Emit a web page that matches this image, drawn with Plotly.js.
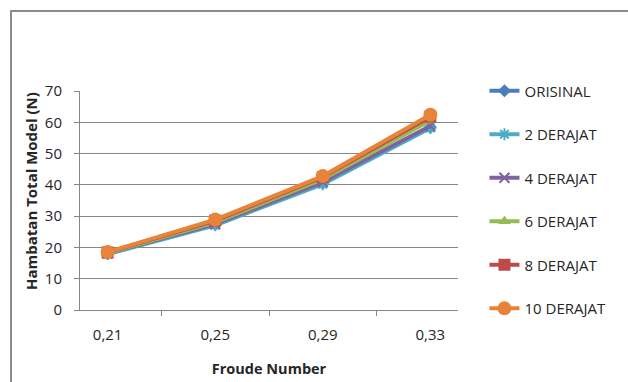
<!DOCTYPE html>
<html>
<head>
<meta charset="utf-8">
<script src="https://cdn.plot.ly/plotly-3.0.1.min.js"></script>
<style>
  html, body { margin: 0; padding: 0; background: #ffffff; }
  #wrap { position: relative; width: 628px; height: 382px; overflow: hidden; }
  #frame { position: absolute; left: 10px; top: 10px; width: 640px; height: 400px;
           border-top: 2px solid #8c8c8c; border-left: 2px solid #8c8c8c; box-sizing: border-box; }
  #chart { position: absolute; left: 0; top: 0; width: 628px; height: 382px; }
</style>
</head>
<body>
<div id="wrap">
  <div id="frame"></div>
  <div id="chart"></div>
</div>
<script>
// Froude numbers on the category axis
const froude = ['0,21', '0,25', '0,29', '0,33'];

// Total model resistance (N) for each trim angle
const orisinal  = [18.0, 27.3, 40.5, 58.4];
const derajat2  = [17.9, 27.1, 40.2, 58.2];
const derajat4  = [18.1, 27.5, 40.9, 58.8];
const derajat6  = [18.2, 28.0, 41.8, 60.6];
const derajat8  = [18.4, 28.6, 42.5, 61.8];
const derajat10 = [18.5, 28.9, 42.8, 62.4];

const seriesNames = ['ORISINAL', '2 DERAJAT', '4 DERAJAT', '6 DERAJAT', '8 DERAJAT', '10 DERAJAT'];
const yTicks = [0, 10, 20, 30, 40, 50, 60, 70];

const values = [orisinal, derajat2, derajat4, derajat6, derajat8, derajat10];
const colors = ['#4a7ebb', '#4bacc6', '#7f63a1', '#98b954', '#be4b48', '#e8843a'];
const symbols = ['diamond', 'asterisk-open', 'x-thin-open', 'triangle-up', 'square', 'circle'];
const sizes = [10, 10, 10, 11, 12, 14];

const traces = values.map((v, i) => ({
  type: 'scatter',
  mode: 'lines+markers',
  x: froude,
  y: v,
  name: seriesNames[i],
  legendgroup: 'g' + i,
  line: { color: colors[i], width: 4 },
  marker: { symbol: symbols[i], size: sizes[i], color: colors[i],
            line: { color: colors[i], width: (symbols[i].endsWith('open') ? 2 : 0) } }
}));

const font = '"Open Sans", Lato, sans-serif';
const textColor = '#262626';

const layout = {
  width: 628,
  height: 382,
  margin: { l: 80, r: 170, t: 91, b: 72, pad: 0 },
  paper_bgcolor: 'rgba(0,0,0,0)',
  plot_bgcolor: 'rgba(0,0,0,0)',
  font: { family: font, size: 15, color: textColor },
  showlegend: true,
  legend: {
    x: 1.07, xanchor: 'left', y: 1.075, yanchor: 'top',
    traceorder: 'grouped', tracegroupgap: 21,
    maxheight: 380,
    font: { family: font, size: 15, color: textColor },
    bgcolor: 'rgba(0,0,0,0)'
  },
  xaxis: {
    type: 'category',
    showgrid: false,
    showline: true, linecolor: '#868686', linewidth: 1,
    ticks: 'outside', ticklen: 5, tickcolor: '#868686', tickson: 'boundaries',
    tickfont: { family: font, size: 15, color: textColor },
    ticklabelstandoff: 11,
    title: { text: 'Froude Number', font: { family: font, size: 14.5, color: textColor, weight: 'bold' }, standoff: 20 },
    zeroline: false
  },
  yaxis: {
    range: [0, 70],
    tickvals: yTicks,
    showgrid: true, gridcolor: '#868686', gridwidth: 1,
    showline: true, linecolor: '#868686', linewidth: 1,
    ticks: 'outside', ticklen: 5, tickcolor: '#868686',
    tickfont: { family: font, size: 15, color: textColor },
    ticklabelstandoff: 9,
    zeroline: false
  },
  annotations: [{
    text: 'Hambatan Total Model (N)',
    xref: 'paper', yref: 'paper',
    x: (31 - 80) / 378, y: (310 - 191) / 219,
    xanchor: 'center', yanchor: 'middle',
    textangle: -90, showarrow: false,
    font: { family: font, size: 15, color: textColor, weight: 'bold' }
  }]
};

Plotly.newPlot('chart', traces, layout, { staticPlot: true, displayModeBar: false });
</script>
</body>
</html>
